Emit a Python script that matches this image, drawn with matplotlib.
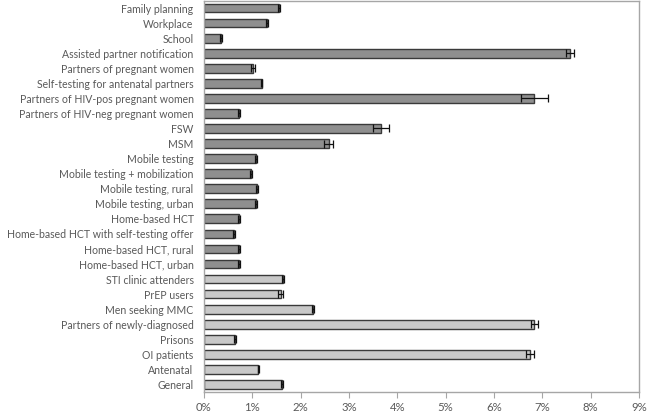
import matplotlib
matplotlib.use("Agg")
import matplotlib.pyplot as plt
import numpy as np

categories = [
    "Family planning", "Workplace", "School", "Assisted partner notification",
    "Partners of pregnant women", "Self-testing for antenatal partners",
    "Partners of HIV-pos pregnant women", "Partners of HIV-neg pregnant women",
    "FSW", "MSM", "Mobile testing", "Mobile testing + mobilization",
    "Mobile testing, rural", "Mobile testing, urban", "Home-based HCT",
    "Home-based HCT with self-testing offer", "Home-based HCT, rural",
    "Home-based HCT, urban", "STI clinic attenders", "PrEP users",
    "Men seeking MMC", "Partners of newly-diagnosed", "Prisons",
    "OI patients", "Antenatal", "General",
]
values = [1.56, 1.31, 0.35, 7.57, 1.02, 1.19, 6.83, 0.73, 3.66, 2.58,
          1.07, 0.98, 1.09, 1.07, 0.72, 0.63, 0.73, 0.72,
          1.64, 1.59, 2.25, 6.83, 0.65, 6.75, 1.12, 1.61]
errors = [0.02, 0.02, 0.02, 0.09, 0.04, 0.02, 0.28, 0.02, 0.17, 0.09,
          0.02, 0.02, 0.02, 0.02, 0.02, 0.02, 0.02, 0.02,
          0.02, 0.05, 0.02, 0.07, 0.02, 0.08, 0.01, 0.02]
group = ["new"] * 18 + ["old"] * 8
xticks = [0, 1, 2, 3, 4, 5, 6, 7, 8, 9]

colors = {"new": "#8f8f8f", "old": "#c8c8c8"}

fig = plt.figure(figsize=(6.48, 4.13), dpi=100)
ax = fig.add_axes([204 / 648, 21 / 413, 435 / 648, 391.5 / 413])

n = len(categories)
y = np.arange(n)[::-1]
ax.barh(y, values, height=0.58, color=[colors[g] for g in group],
        edgecolor="#3a3a3a", linewidth=1.0, zorder=2)
ax.errorbar(values, y, xerr=errors, fmt="none", ecolor="#111111",
            elinewidth=0.9, capsize=2.8, capthick=0.9, zorder=3)

ax.set_xlim(0, 9)
ax.set_ylim(-0.5, n - 0.5)
ax.set_yticks(y)
ax.set_yticklabels(categories, fontsize=7.6, color="#595959",
                   family="Lato")
ax.set_xticks(xticks)
ax.set_xticklabels([f"{t}%" for t in xticks], fontsize=8.2, color="#595959",
                   family="Lato")
ax.tick_params(axis="y", length=0, pad=7.5)
ax.tick_params(axis="x", length=4, color="#a6a6a6", width=0.8, pad=3)
for s in ax.spines.values():
    s.set_color("#a6a6a6")
    s.set_linewidth(1.0)

fig.savefig("out.png", dpi=100, facecolor="white")
